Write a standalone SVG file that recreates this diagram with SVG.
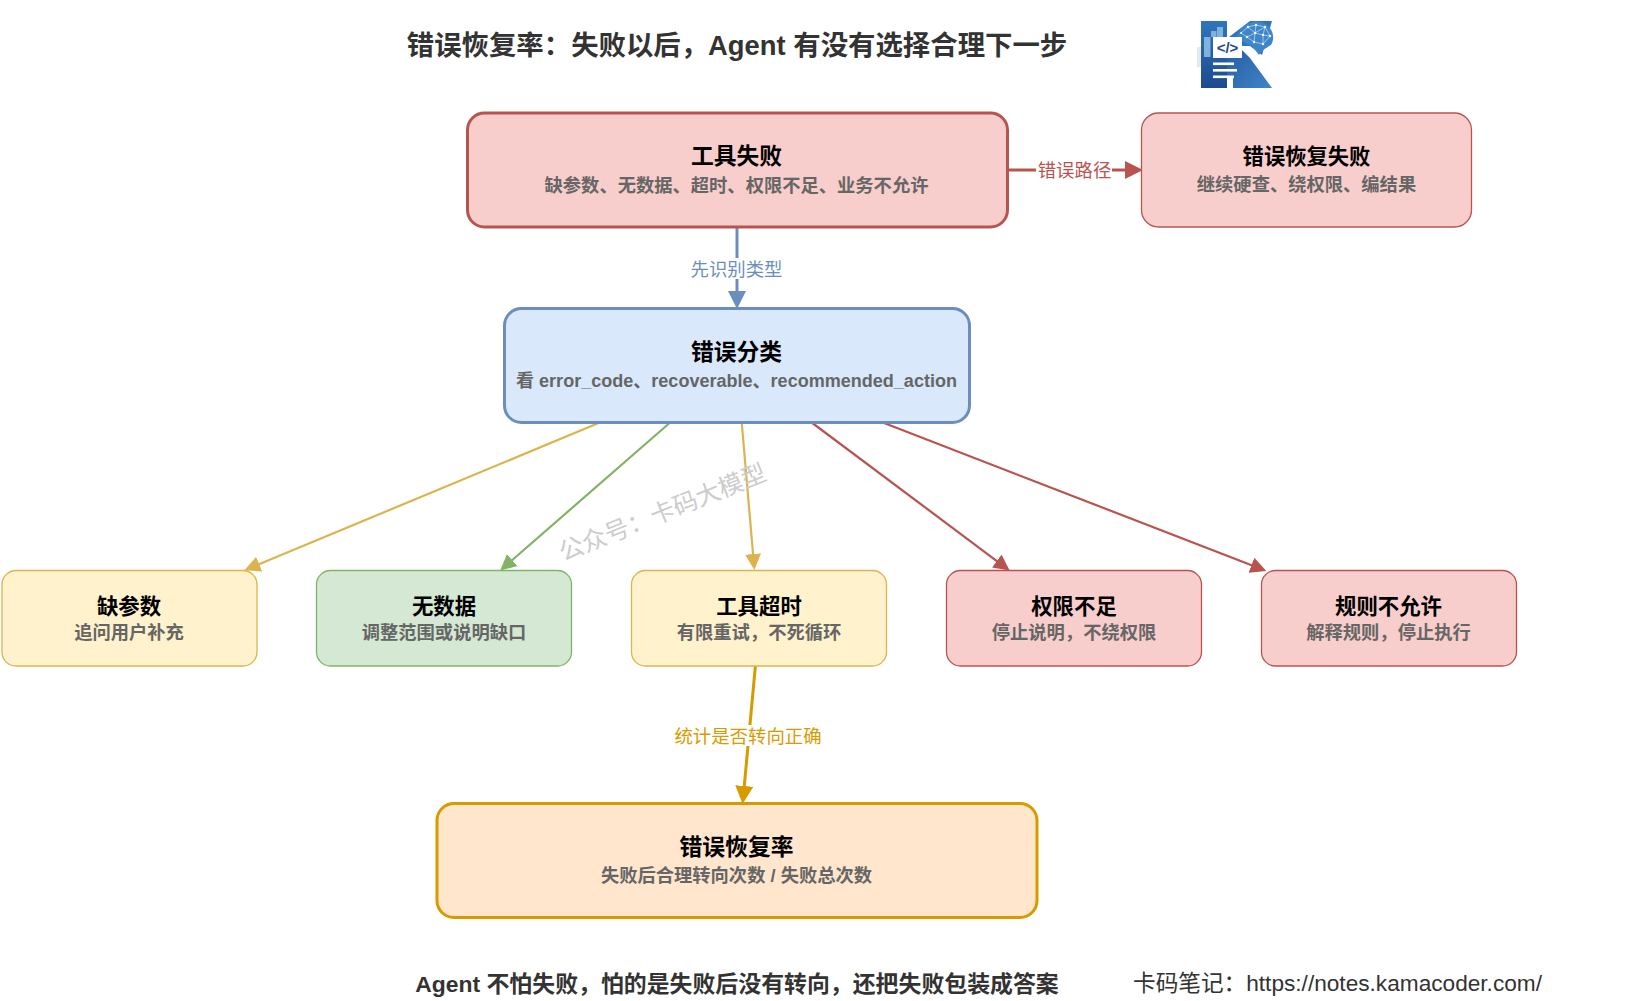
<svg xmlns="http://www.w3.org/2000/svg" width="1639" height="1001" viewBox="0 0 1639 1001">
<style>
text{font-family:"Liberation Sans","Noto Sans CJK SC",sans-serif;text-anchor:middle}
.h{font-weight:700;fill:#333}
.t{font-weight:700;fill:#000;font-size:22.8px}
.t2{font-weight:700;fill:#000;font-size:21.3px}
.tr{font-weight:700;fill:#000;font-size:21.4px}
.s{font-weight:700;fill:#666;font-size:18.3px}
.l{font-size:18.4px}
.red{fill:#f8cecc;stroke:#b85450}
.blue{fill:#dae8fc;stroke:#6c8ebf}
.green{fill:#d5e8d4;stroke:#82b366}
.yellow{fill:#fff2cc;stroke:#dcb44f}
.orange{fill:#ffe6cc;stroke:#d79b00}
.thick{stroke-width:3}
.thin{stroke-width:1.3}
.c{fill:none}
.bg{fill:#fff;stroke:none}
</style>
<defs>
<marker id="mBlue" markerUnits="userSpaceOnUse" markerWidth="18" markerHeight="18" viewBox="0 0 16 16" refX="2.67" refY="8" orient="auto"><path d="M0 0L16 8L0 16Z" fill="#6c8ebf"/></marker>
<marker id="mRed" markerUnits="userSpaceOnUse" markerWidth="18" markerHeight="18" viewBox="0 0 16 16" refX="2.67" refY="8" orient="auto"><path d="M0 0L16 8L0 16Z" fill="#b85450"/></marker>
<marker id="mOrange" markerUnits="userSpaceOnUse" markerWidth="18" markerHeight="18" viewBox="0 0 16 16" refX="2.67" refY="8" orient="auto"><path d="M0 0L16 8L0 16Z" fill="#d79b00"/></marker>
<marker id="sYellow" markerUnits="userSpaceOnUse" markerWidth="16" markerHeight="16" viewBox="0 0 14 14" refX="2.6" refY="7" orient="auto"><path d="M0 0L14 7L0 14Z" fill="#dcb44f"/></marker>
<marker id="sGreen" markerUnits="userSpaceOnUse" markerWidth="16" markerHeight="16" viewBox="0 0 14 14" refX="2.6" refY="7" orient="auto"><path d="M0 0L14 7L0 14Z" fill="#82b366"/></marker>
<marker id="sRed" markerUnits="userSpaceOnUse" markerWidth="16" markerHeight="16" viewBox="0 0 14 14" refX="2.6" refY="7" orient="auto"><path d="M0 0L14 7L0 14Z" fill="#b85450"/></marker>
<linearGradient id="kBar" x1="0" y1="0" x2="0" y2="1"><stop offset="0" stop-color="#2f75bb"/><stop offset="1" stop-color="#1d4a8f"/></linearGradient>
<linearGradient id="kLeg" x1="0" y1="0" x2="1" y2="1"><stop offset="0" stop-color="#24569d"/><stop offset="1" stop-color="#3f86c9"/></linearGradient>
</defs>

<text id="title" class="h" x="737" y="54.5" font-size="27.4">错误恢复率：失败以后，Agent 有没有选择合理下一步</text>

<g id="logo">
<rect x="1197" y="47" width="4" height="20" fill="#e3ebf2"/>
<rect x="1201" y="21" width="26" height="67" fill="url(#kBar)"/>
<g fill="#7fb3dc"><rect x="1204" y="37" width="6.5" height="20"/><rect x="1211" y="31" width="5.5" height="6"/><rect x="1217" y="27" width="6" height="10"/></g>
<path d="M1229 37L1250 21H1272L1262 55L1250 46H1242V37Z" fill="#2f75bb"/>
<path d="M1240 30C1245 23 1254 20 1262 22C1272 26 1276 37 1271 45C1266 48 1262 50 1259 55L1252 46C1247 45 1241 40 1237 36Z" fill="#3f86c9"/>
<path d="M1241 33L1248 27L1256 25L1265 27L1270 36L1263 44L1254 42L1247 37ZM1248 27L1255 33L1265 27M1256 25L1255 33L1254 42M1247 37L1255 33L1263 35L1270 36M1263 35L1263 44M1263 35L1265 27" fill="none" stroke="#cfe4f5" stroke-width=".8" stroke-opacity=".85"/>
<g fill="#eef6fc"><circle cx="1248" cy="27" r="1.2"/><circle cx="1256" cy="25" r="1.2"/><circle cx="1265" cy="27" r="1.2"/><circle cx="1255" cy="33" r="1.2"/><circle cx="1263" cy="35" r="1.2"/><circle cx="1247" cy="37" r="1.2"/><circle cx="1254" cy="42" r="1.2"/><circle cx="1263" cy="44" r="1.2"/><circle cx="1270" cy="36" r="1.2"/><circle cx="1241" cy="33" r="1"/></g>
<path d="M1227 37H1242V50L1250 58L1272 88H1233V78H1227Z" fill="url(#kLeg)"/>
<rect x="1213" y="37" width="29" height="21" fill="#fff"/>
<text x="1227.5" y="52.5" font-size="15" font-weight="700" fill="#1d4a8f">&lt;/&gt;</text>
<g fill="#fff"><rect x="1213" y="62.5" width="21" height="2.6"/><rect x="1213" y="69" width="24" height="2.6"/><rect x="1213" y="75.5" width="21" height="2.6"/></g>
</g>

<g id="connectors">
<path class="c" d="M737 227V294" stroke="#6c8ebf" stroke-width="3" marker-end="url(#mBlue)"/>
<path class="c" d="M1008 170H1128" stroke="#b85450" stroke-width="3" marker-end="url(#mRed)"/>
<path class="c" d="M601 422L256.5 565.3" stroke="#dcb44f" stroke-width="2.2" marker-end="url(#sYellow)"/>
<path class="c" d="M670.7 422L510 562" stroke="#82b366" stroke-width="2.2" marker-end="url(#sGreen)"/>
<path class="c" d="M741.7 422L753.3 557" stroke="#dcb44f" stroke-width="2.2" marker-end="url(#sYellow)"/>
<path class="c" d="M811 422L999.2 562.8" stroke="#b85450" stroke-width="2.2" marker-end="url(#sRed)"/>
<path class="c" d="M881.5 422L1254.2 566.3" stroke="#b85450" stroke-width="2.2" marker-end="url(#sRed)"/>
<path class="c" d="M755.4 666L744 789" stroke="#d79b00" stroke-width="3" marker-end="url(#mOrange)"/>
<rect class="bg" x="689" y="258" width="96" height="21"/>
<text class="l" x="736.5" y="275.5" fill="#6c8ebf">先识别类型</text>
<rect class="bg" x="1036" y="160" width="76" height="20"/>
<text class="l" x="1074.5" y="177" fill="#b85450">错误路径</text>
<rect class="bg" x="673" y="725" width="150" height="21"/>
<text class="l" x="748" y="743" fill="#d79b00">统计是否转向正确</text>
</g>

<g id="node-tool-fail">
<rect class="red thick" x="467.5" y="113" width="540" height="114" rx="17"/>
<text class="t" x="736.5" y="164">工具失败</text>
<text class="s" x="736.5" y="191.5">缺参数、无数据、超时、权限不足、业务不允许</text>
</g>
<g id="node-recovery-fail">
<rect class="red thin" x="1141.5" y="113" width="330" height="114" rx="17"/>
<text class="t2" x="1306.5" y="164">错误恢复失败</text>
<text class="s" x="1306.5" y="190.5">继续硬查、绕权限、编结果</text>
</g>
<g id="node-classify">
<rect class="blue thick" x="504.5" y="308.5" width="465" height="114" rx="17"/>
<text class="t" x="736.5" y="359.5">错误分类</text>
<text class="s" x="736.5" y="386.5" style="font-size:18.05px">看 error_code、recoverable、recommended_action</text>
</g>
<g id="node-missing">
<rect class="yellow thin" x="2" y="570.5" width="255" height="95.5" rx="14"/>
<text class="tr" x="129" y="614">缺参数</text>
<text class="s" x="129" y="638.5">追问用户补充</text>
</g>
<g id="node-nodata">
<rect class="green thin" x="316.5" y="570.5" width="255" height="95.5" rx="14"/>
<text class="tr" x="444" y="614">无数据</text>
<text class="s" x="444" y="638.5">调整范围或说明缺口</text>
</g>
<g id="node-timeout">
<rect class="yellow thin" x="631.5" y="570.5" width="255" height="95.5" rx="14"/>
<text class="tr" x="759" y="614">工具超时</text>
<text class="s" x="759" y="638.5">有限重试，不死循环</text>
</g>
<g id="node-permission">
<rect class="red thin" x="946.5" y="570.5" width="255" height="95.5" rx="14"/>
<text class="tr" x="1074" y="614">权限不足</text>
<text class="s" x="1074" y="638.5">停止说明，不绕权限</text>
</g>
<g id="node-rule">
<rect class="red thin" x="1261.5" y="570.5" width="255" height="95.5" rx="14"/>
<text class="tr" x="1388.5" y="614">规则不允许</text>
<text class="s" x="1388.5" y="638.5">解释规则，停止执行</text>
</g>
<g id="node-rate">
<rect class="orange thick" x="437" y="803.5" width="600" height="114" rx="17"/>
<text class="t" x="736.5" y="854.5">错误恢复率</text>
<text class="s" x="736.5" y="882">失败后合理转向次数 / 失败总次数</text>
</g>

<text id="watermark" x="662.5" y="512.5" font-size="24.5" fill="#cccccc" transform="rotate(-21.8 662.5 512.5)" dominant-baseline="central">公众号：卡码大模型</text>
<text id="footer-left" class="h" x="737" y="992" font-size="22.9">Agent 不怕失败，怕的是失败后没有转向，还把失败包装成答案</text>
<text id="footer-right" x="1337.5" y="991" font-size="22.65" fill="#333">卡码笔记：https://notes.kamacoder.com/</text>
</svg>
